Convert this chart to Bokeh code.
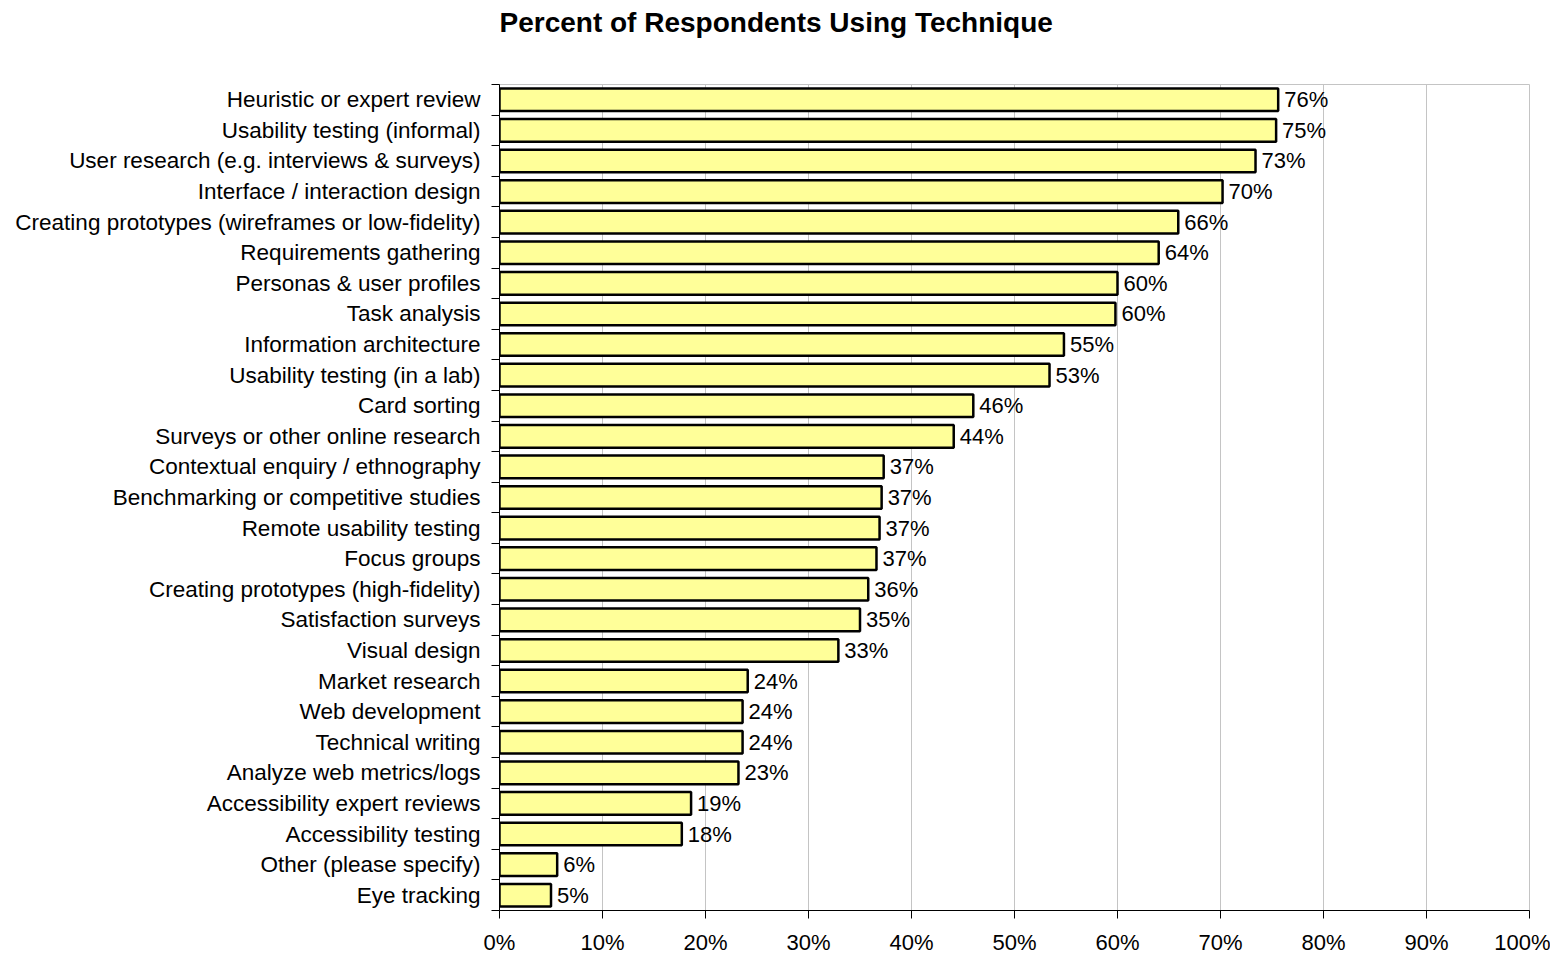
from bokeh.plotting import figure
from bokeh.models import Range1d, FixedTicker, PrintfTickFormatter, ColumnDataSource, Title
from bokeh.core.properties import value
from bokeh.embed import file_html
from bokeh.resources import INLINE

categories = [
    "Heuristic or expert review",
    "Usability testing (informal)",
    "User research (e.g. interviews & surveys)",
    "Interface / interaction design",
    "Creating prototypes (wireframes or low-fidelity)",
    "Requirements gathering",
    "Personas & user profiles",
    "Task analysis",
    "Information architecture",
    "Usability testing (in a lab)",
    "Card sorting",
    "Surveys or other online research",
    "Contextual enquiry / ethnography",
    "Benchmarking or competitive studies",
    "Remote usability testing",
    "Focus groups",
    "Creating prototypes (high-fidelity)",
    "Satisfaction surveys",
    "Visual design",
    "Market research",
    "Web development",
    "Technical writing",
    "Analyze web metrics/logs",
    "Accessibility expert reviews",
    "Accessibility testing",
    "Other (please specify)",
    "Eye tracking",
]
percents = [75.6, 75.4, 73.4, 70.2, 65.9, 64.0, 60.0, 59.8, 54.8, 53.4,
            46.0, 44.1, 37.3, 37.1, 36.9, 36.6, 35.8, 35.0, 32.9, 24.1,
            23.6, 23.6, 23.2, 18.6, 17.7, 5.6, 5.0]
x_ticks = [0, 10, 20, 30, 40, 50, 60, 70, 80, 90, 100]
title_text = "Percent of Respondents Using Technique"

n = len(categories)
ys = [n - i - 0.5 for i in range(n)]
labels = [f"{round(v)}%" for v in percents]
src = ColumnDataSource(dict(y=ys, v=percents, lab=labels))

FONT = "Liberation Sans"

p = figure(width=1550, height=957, output_backend="svg", toolbar_location=None,
           x_range=Range1d(0, 100), y_range=Range1d(0, n),
           min_border_left=499, min_border_right=21, min_border_top=84,
           min_border_bottom=30)

p.title.text = ""
spacer = Title(text=" ", text_font_size="10px", standoff=34)
p.add_layout(spacer, "above")
t = Title(text=title_text, text_font=FONT, text_font_size="28px",
          text_font_style="bold", text_color="black", align="left",
          offset=0, standoff=0, vertical_align="bottom")
p.add_layout(t, "above")

p.hbar(y="y", right="v", left=0, height=0.74, source=src,
       fill_color="#FFFF99", line_color="black", line_width=2.5)
p.text(x="v", y="y", text="lab", source=src, x_offset=6,
       text_baseline="middle", text_align="left",
       text_font=value(FONT), text_font_size="22px", text_color="black")

# x axis
xa = p.xaxis[0]
xa.ticker = FixedTicker(ticks=x_ticks)
xa.formatter = PrintfTickFormatter(format="%d%%")
xa.major_tick_out = 8
xa.major_tick_in = 0
xa.minor_tick_out = 0
xa.minor_tick_in = 0
xa.major_label_standoff = 11
xa.major_label_text_font = FONT
xa.major_label_text_font_size = "22px"
xa.major_label_text_line_height = 1.0
xa.major_label_text_color = "black"
xa.axis_line_color = "black"
xa.major_tick_line_color = "black"

# y axis
ya = p.yaxis[0]
ya.ticker = FixedTicker(ticks=ys, minor_ticks=list(range(n + 1)))
ya.major_label_overrides = {y: c for y, c in zip(ys, categories)}
ya.major_tick_out = 0
ya.major_tick_in = 0
ya.minor_tick_out = 8
ya.minor_tick_in = 0
ya.minor_tick_line_color = "black"
ya.major_label_standoff = 11
ya.major_label_text_font = FONT
ya.major_label_text_font_size = "22.5px"
ya.major_label_text_color = "black"
ya.axis_line_color = "black"

p.xgrid.grid_line_color = "#c4c4c4"
p.xgrid.grid_line_width = 1
p.ygrid.grid_line_color = None
p.outline_line_color = "#c4c4c4"
p.outline_line_width = 1
p.background_fill_color = "white"
p.border_fill_color = "white"

open("out.html", "w").write(file_html(p, INLINE))
